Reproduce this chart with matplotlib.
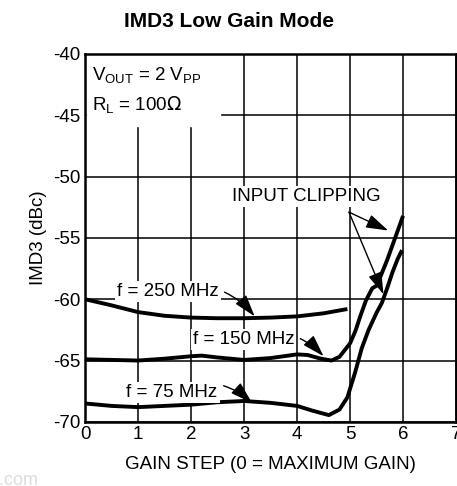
import matplotlib
matplotlib.use('Agg')
import matplotlib.pyplot as plt

plt.rcParams['font.family'] = ['Liberation Sans', 'DejaVu Sans']
plt.rcParams['axes.unicode_minus'] = False

# data (gain step, IMD3 dBc)
gain_250 = [0.0, 0.5, 1.0, 1.5, 2.0, 2.5, 3.0, 3.5, 4.0, 4.5, 4.95]
imd_250 = [-60.0, -60.5, -61.05, -61.35, -61.5, -61.55, -61.55, -61.5, -61.4, -61.15, -60.8]

gain_150 = [0.0, 0.5, 1.0, 1.5, 2.0, 2.2, 2.5, 3.0, 3.5, 4.0, 4.2, 4.45, 4.65, 4.8,
            5.0, 5.1, 5.2, 5.3, 5.42, 5.5, 5.56, 5.7, 5.8, 5.9, 6.0]
imd_150 = [-64.9, -64.95, -65.0, -64.85, -64.65, -64.6, -64.75, -64.95, -64.8, -64.5, -64.55,
           -64.85, -65.0, -64.7, -63.6, -62.6, -61.3, -60.1, -59.1, -58.9, -58.3,
           -56.8, -55.6, -54.4, -53.2]

gain_75 = [0.0, 0.5, 1.0, 1.5, 2.0, 2.5, 3.0, 3.5, 4.0, 4.3, 4.6, 4.8, 4.95, 5.1, 5.22,
           5.35, 5.5, 5.6, 5.7, 5.8, 5.9, 5.98]
imd_75 = [-68.5, -68.7, -68.8, -68.7, -68.6, -68.4, -68.3, -68.45, -68.7, -69.1, -69.45,
          -69.0, -68.0, -65.9, -64.0, -62.5, -61.1, -60.3, -59.1, -57.8, -56.7, -56.0]

xticks = [0, 1, 2, 3, 4, 5, 6, 7]
yticks = [-70, -65, -60, -55, -50, -45, -40]

fig = plt.figure(figsize=(4.57, 4.86), dpi=100)
ax = fig.add_axes([0.186, 0.132, 0.812, 0.757])

ax.set_xlim(0, 7)
ax.set_ylim(-70, -40)
ax.set_xticks(xticks)
ax.set_yticks(yticks)
ax.tick_params(length=0, labelsize=13.5, pad=3)
ax.grid(True, color='black', linewidth=1.1)
ax.set_axisbelow(True)
for s in ax.spines.values():
    s.set_linewidth(1.8)

ax.plot(gain_250, imd_250, color='black', linewidth=2.8, solid_capstyle='butt')
ax.plot(gain_150, imd_150, color='black', linewidth=2.8, solid_capstyle='butt')
ax.plot(gain_75, imd_75, color='black', linewidth=2.8, solid_capstyle='butt')

# white box covering grid behind the conditions text
ax.fill_between([0.03, 2.55], -45.9, -40.1, color='white', zorder=1.5)
ax.text(0.13, -41.8, r'V$_{\mathregular{OUT}}$ = 2 V$_{\mathregular{PP}}$', fontsize=13.5,
        va='center', zorder=3)
ax.text(0.13, -44.2, r'R$_{\mathregular{L}}$ = 100$\Omega$', fontsize=13.5, va='center', zorder=3)

wbox = dict(facecolor='white', edgecolor='none', pad=1.5)
head = '-|>,head_length=0.8,head_width=0.25'
arrow = dict(arrowstyle=head, color='black', linewidth=1.0, mutation_scale=17,
             connectionstyle='arc3,rad=-0.35', shrinkA=3, shrinkB=0)
ax.annotate('f = 250 MHz', xy=(3.2, -61.4), xytext=(2.52, -59.4), fontsize=13.5,
            ha='right', va='center', arrowprops=arrow, bbox=wbox)
ax.annotate('f = 150 MHz', xy=(4.5, -64.65), xytext=(3.95, -63.3), fontsize=13.5,
            ha='right', va='center', arrowprops=arrow, bbox=wbox)
ax.annotate('f = 75 MHz', xy=(3.15, -68.45), xytext=(2.5, -67.6), fontsize=13.5,
            ha='right', va='center', arrowprops=arrow, bbox=wbox)

ax.text(4.17, -51.6, 'INPUT CLIPPING', fontsize=13.5, ha='center', va='center', bbox=wbox)
straight = dict(arrowstyle=head, color='black', linewidth=1.0, mutation_scale=17,
                shrinkA=0, shrinkB=0)
ax.annotate('', xy=(5.72, -54.4), xytext=(4.98, -52.9), arrowprops=straight)
ax.annotate('', xy=(5.63, -59.6), xytext=(4.98, -52.9), arrowprops=straight)

ax.set_xlabel('GAIN STEP (0 = MAXIMUM GAIN)', fontsize=13.5, labelpad=9)
ax.set_ylabel('IMD3 (dBc)', fontsize=13.5, labelpad=5)
fig.text(0.5, 0.955, 'IMD3 Low Gain Mode', fontsize=15, fontweight='bold',
         ha='center', va='center')
fig.text(-0.01, 0.003, 'l.com', fontsize=13, color='#dcdcdc')

fig.savefig('out.png', dpi=100)
